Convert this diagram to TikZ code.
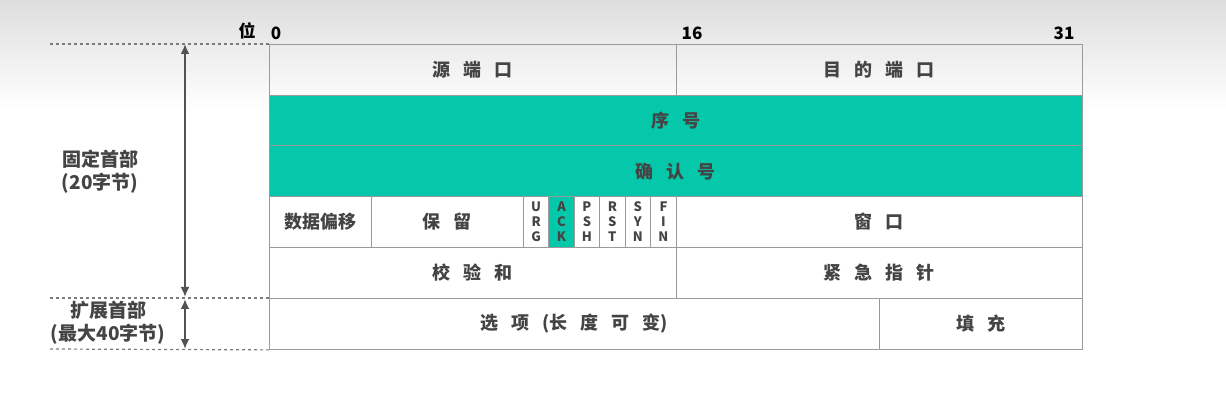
\documentclass[tikz,border=0pt]{standalone}
\usepackage{fontspec}
\setmainfont{Noto Sans CJK SC}
\usetikzlibrary{arrows.meta}
\definecolor{tgreen}{HTML}{05C7A9}
\definecolor{tline}{HTML}{9A9A9A}
\definecolor{ttext}{HTML}{444444}
\newcommand\cg{\hspace{13pt}}
\tikzset{
  cell/.style={draw=tline, line width=0.9pt, minimum height=51pt, inner sep=0pt, anchor=north west, font=\fontsize{18}{18}\selectfont\bfseries, text=ttext},
  gcell/.style={cell, fill=tgreen},
  flag/.style={cell, font=\fontsize{13}{15}\selectfont\bfseries, align=center},
  bitlab/.style={font=\fontsize{17}{17}\selectfont\bfseries, text=black, anchor=south},
  side/.style={font=\fontsize{19}{23}\selectfont\bfseries, text=ttext, align=center},
  guide/.style={draw=tline!80!black, dashed, line width=1.2pt},
  dimarrow/.style={draw=black!68, line width=2.8pt, {Latex[length=10pt,width=9pt]}-{Latex[length=10pt,width=9pt]}}
}
\begin{document}
\begin{tikzpicture}[x=1pt,y=-1pt]
\useasboundingbox (0,0) rectangle (1226,403);
\shade[top color=black!13, bottom color=white] (0,0) rectangle (1226,110);
\fill[white] (0,110) rectangle (1226,403);
% row 1
\node[cell, minimum width=407pt] (src) at (269,44) {源\cg 端\cg 口};
\node[cell, minimum width=406pt] (dst) at (676,44) {目\cg 的\cg 端\cg 口};
% rows 2,3
\node[gcell, minimum width=813pt] (seq) at (269,95) {序\cg 号};
\node[gcell, minimum width=813pt] (ack) at (269,145.5) {确\cg 认\cg 号};
% row 4
\node[cell, minimum width=102pt] (off) at (269,196) {数据偏移};
\node[cell, minimum width=152pt] (res) at (371,196) {保\cg 留};
\node[flag, minimum width=25.4pt] (urg) at (523,196) {U\\R\\G};
\node[flag, fill=tgreen, minimum width=25.4pt] (fack) at (548.4,196) {A\\C\\K};
\node[flag, minimum width=25.4pt] (psh) at (573.8,196) {P\\S\\H};
\node[flag, minimum width=25.4pt] (rst) at (599.2,196) {R\\S\\T};
\node[flag, minimum width=25.4pt] (syn) at (624.6,196) {S\\Y\\N};
\node[flag, minimum width=26pt] (fin) at (650,196) {F\\I\\N};
\node[cell, minimum width=406pt] (win) at (676,196) {窗\cg 口};
% row 5
\node[cell, minimum width=407pt] (chk) at (269,247) {校\cg 验\cg 和};
\node[cell, minimum width=406pt] (urp) at (676,247) {紧\cg 急\cg 指\cg 针};
% row 6
\node[cell, minimum width=610pt] (opt) at (269,298) {选\cg 项\cg (长\cg 度\cg 可\cg 变)};
\node[cell, minimum width=203pt] (pad) at (879,298) {填\cg 充};
% bit labels
\node[bitlab] (wei) at (247,43) {位};
\node[bitlab] (b0) at (276,43) {0};
\node[bitlab] (b16) at (692,43) {16};
\node[bitlab] (b31) at (1064,43) {31};
% dashed guides
\coordinate (d1) at (50,44);
\coordinate (d2) at (50,298);
\coordinate (d3) at (50,349);
\draw[guide] (d1) -- (src.north west);
\draw[guide] (d2) -- (opt.north west);
\draw[guide] (d3) -- (opt.south west);
% dimension arrows
\coordinate (a1) at (185,44);
\coordinate (a2) at (185,297);
\coordinate (a3) at (185,299);
\coordinate (a4) at (185,349);
\draw[dimarrow] (a1) -- (a2);
\draw[dimarrow] (a3) -- (a4);
% side labels
\node[side] (fixed) at (100,172) {固定首部\\(20字节)};
\node[side] (ext) at (108,323) {扩展首部\\(最大40字节)};
\end{tikzpicture}
\end{document}
